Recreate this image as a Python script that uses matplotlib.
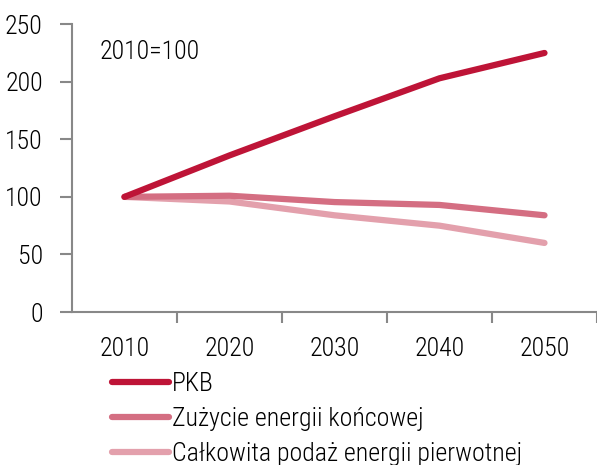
import numpy as np
import matplotlib
matplotlib.use("Agg")
import matplotlib.pyplot as plt

plt.rcParams.update(
    {
        "font.family": ["Roboto Condensed", "Roboto", "DejaVu Sans"],
        "font.weight": "light",
        "font.size": 18.6,
    }
)

years = ["2010", "2020", "2030", "2040", "2050"]
pkb = [100, 136, 170, 203, 225]
final_energy = [100, 101, 95.5, 93, 84]
primary_energy = [100, 96, 84, 75, 60]

series = [
    ("PKB", pkb, "#be1437"),
    ("Zużycie energii końcowej", final_energy, "#d46e82"),
    ("Całkowita podaż energii pierwotnej", primary_energy, "#e3a0ac"),
]

fig = plt.figure(figsize=(5.97, 4.65), dpi=100)
ax = fig.add_axes([0.1206, 0.329, 0.8794, 0.619])

x = np.arange(len(years))
for label, vals, color in reversed(series):
    ax.plot(x, vals, color=color, lw=4.5, solid_capstyle="round", label=label)

ax.set_xlim(-0.5, len(years) - 0.5)
ax.set_ylim(0, 250)
ax.set_yticks(range(0, 251, 50))

# category labels in the middle, tick marks between categories
ax.set_xticks(x + 0.5)
ax.set_xticklabels([])
ax.set_xticks(x, minor=True)
ax.set_xticklabels(years, minor=True)
ax.tick_params(axis="x", which="minor", length=0, pad=18)
ax.tick_params(axis="x", which="major", length=8, color="#888888", width=1.5)
ax.tick_params(axis="y", length=9, color="#888888", width=1.5, pad=12)

for s in ["top", "right"]:
    ax.spines[s].set_visible(False)
for s in ["left", "bottom"]:
    ax.spines[s].set_color("#888888")
    ax.spines[s].set_linewidth(1.5)

ax.text(0.053, 0.945, "2010=100", transform=ax.transAxes, va="top", ha="left")

handles, labels = ax.get_legend_handles_labels()
fig.legend(
    handles[::-1],
    labels[::-1],
    loc="upper left",
    bbox_to_anchor=(0.188, 0.2),
    frameon=False,
    handlelength=2.2,
    handletextpad=0.1,
    labelspacing=0.42,
    borderaxespad=0,
    borderpad=0,
)

fig.savefig("out.png", dpi=100)
